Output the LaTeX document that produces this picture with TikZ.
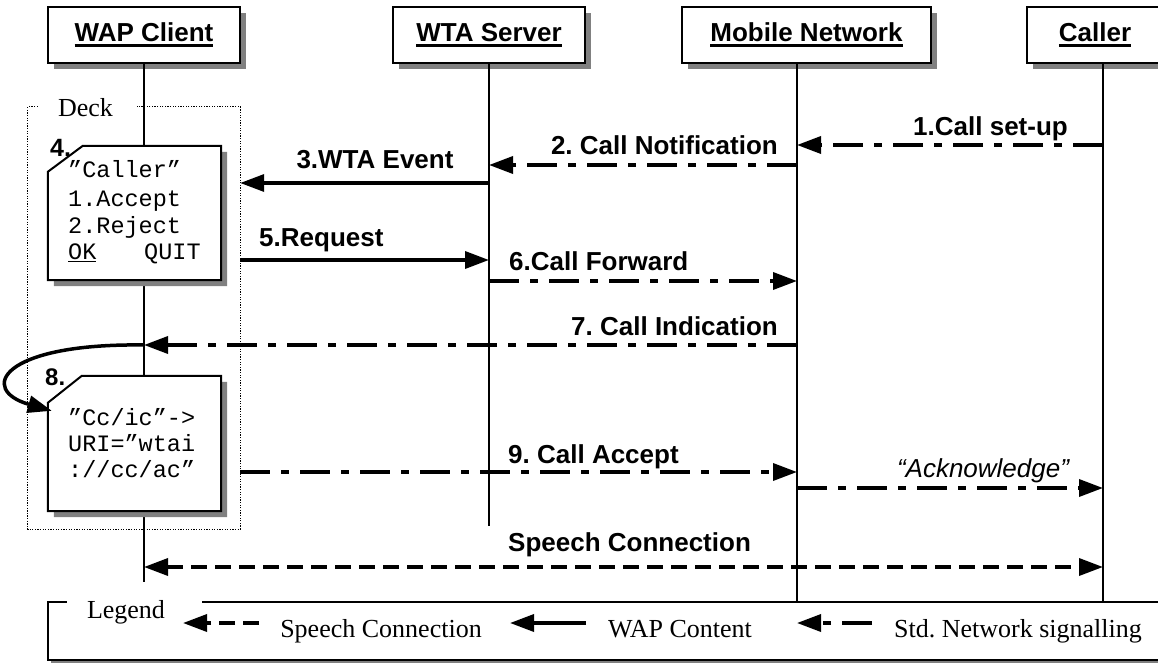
\documentclass[tikz,border=0pt]{standalone}
\usepackage{fontspec}
\setmainfont{Liberation Serif}
\newfontfamily\sansf{Liberation Sans}
\newfontfamily\monof{Liberation Mono}
\usetikzlibrary{arrows.meta,shadows,calc}
\frenchspacing

% underline with a given drop below the baseline and thickness
\newcommand\heavyul[3]{\setbox0\hbox{#3}\leavevmode\rlap{\raisebox{-#1}{\rule{\wd0}{#2}}}\box0}

\tikzset{
  grayshadow/.style={drop shadow={shadow xshift=#1, shadow yshift=-#1, fill=black!50, opacity=1}},
  titlebox/.style={draw, line width=2pt, fill=white, inner sep=0pt, minimum height=56pt,
    font=\sansf\bfseries\fontsize{26}{30}\selectfont, grayshadow=6pt},
  lifeline/.style={line width=1.8pt},
  screen/.style={draw, line width=2pt, fill=white, grayshadow=6pt},
  scrtext/.style={font=\monof\fontsize{23.5}{27}\selectfont, inner sep=0pt, anchor=base west},
  msgtip/.style={-{Triangle[length=24pt,width=17pt]}},
  wapmsg/.style={line width=3.5pt, msgtip},
  netmsg/.style={line width=3.5pt, msgtip, dash pattern=on 30pt off 11pt on 8pt off 11pt},
  voice/.style={line width=3.5pt, dash pattern=on 16pt off 8pt},
  lbl/.style={font=\sansf\bfseries\fontsize{26}{30}\selectfont, inner sep=0pt},
  steplbl/.style={font=\sansf\bfseries\fontsize{25}{30}\selectfont, inner sep=0pt, anchor=base west},
  serif/.style={font=\fontsize{26}{30}\selectfont, inner sep=0pt},
  deckline/.style={line width=1.3pt, dash pattern=on 1.3pt off 1.3pt},
}

\begin{document}
\begin{tikzpicture}[x=1pt,y=-1pt]
\useasboundingbox (0,0) rectangle (1158,663);
\clip (0,0) rectangle (1158,663);
\fill[white] (0,0) rectangle (1158,663);

% deck frame
\node[minimum width=212pt, minimum height=422pt, inner sep=0pt] (deck) at (134,318) {};
\draw[deckline] ($(deck.north west)+(10,0)$) -- (deck.north west) -- (deck.south west)
  -- (deck.south east) -- (deck.north east) -- ($(deck.north west)+(109,0)$);
\node[serif, anchor=base] (decklbl) at (85.5,117) {Deck};

% lifeline ends
\coordinate (wapEnd) at (144,582);
\coordinate (wtaEnd) at (489,526);
\coordinate (mobEnd) at (797,602);
\coordinate (callEnd) at (1103,602);

% participants
\node[titlebox, minimum width=192pt] (wap) at (144,35) {\heavyul{5pt}{2.5pt}{WAP Client}};
\node[titlebox, minimum width=192pt] (wta) at (489,35) {\heavyul{5pt}{2.5pt}{WTA Server}};
\node[titlebox, minimum width=249pt] (mob) at (806.5,35) {\heavyul{5pt}{2.5pt}{Mobile Network}};
\node[titlebox, minimum width=136pt] (caller) at (1095,35) {\heavyul{5pt}{2.5pt}{Caller}};

\draw[lifeline] (wapEnd |- wap.south) -- (wapEnd);
\draw[lifeline] (wtaEnd |- wta.south) -- (wtaEnd);
\draw[lifeline] (mobEnd |- mob.south) -- (mobEnd);
\draw[lifeline] (callEnd |- caller.south) -- (callEnd);

% handset screens
\node[minimum width=173pt, minimum height=134pt, inner sep=0pt] (scr4) at (134.5,213) {};
\draw[screen] ($(scr4.north west)+(0,26)$) -- ($(scr4.north west)+(35,0)$) -- (scr4.north east)
  -- (scr4.south east) -- (scr4.south west) -- cycle;
\node[scrtext] (s4a) at (68,178) {”Caller”};
\node[scrtext] (s4b) at (68,206) {1.Accept};
\node[scrtext] (s4c) at (68,233) {2.Reject};
\node[scrtext] (s4d) at (68,259) {\heavyul{3pt}{1pt}{OK}};
\node[scrtext] (s4e) at (144,259) {QUIT};
\node[steplbl] (n4) at (50,157) {4.};

\node[minimum width=173pt, minimum height=135pt, inner sep=0pt] (scr8) at (134.5,443.5) {};
\draw[screen] ($(scr8.north west)+(0,27)$) -- ($(scr8.north west)+(34,0)$) -- (scr8.north east)
  -- (scr8.south east) -- (scr8.south west) -- cycle;
\node[scrtext] (s8a) at (68,425) {”Cc/ic”->};
\node[scrtext] (s8b) at (68,451) {URI=”wtai};
\node[scrtext] (s8c) at (68,477) {://cc/ac”};
\node[steplbl, font=\sansf\bfseries\fontsize{24}{28}\selectfont] (n8) at (45,385) {8.};

% message rows
\coordinate (r1) at (0,145);
\coordinate (r2) at (0,165);
\coordinate (r3) at (0,183);
\coordinate (r5) at (0,260);
\coordinate (r6) at (0,281);
\coordinate (r7) at (0,345);
\coordinate (r9) at (0,472);
\coordinate (rA) at (0,488);
\coordinate (rS) at (0,567);

\draw[netmsg] (callEnd |- r1) -- (mobEnd |- r1);
\draw[netmsg] (mobEnd |- r2) -- (wtaEnd |- r2);
\draw[wapmsg] (wtaEnd |- r3) -- (deck.east |- r3);
\draw[wapmsg] (deck.east |- r5) -- (wtaEnd |- r5);
\draw[netmsg] (wtaEnd |- r6) -- (mobEnd |- r6);
\draw[netmsg] (mobEnd |- r7) -- (wapEnd |- r7);
\draw[netmsg] (deck.east |- r9) -- (mobEnd |- r9);
\draw[netmsg] (mobEnd |- rA) -- (callEnd |- rA);
\draw[voice, {Triangle[length=24pt,width=17pt]}-{Triangle[length=24pt,width=17pt]}]
  (wapEnd |- rS) -- (callEnd |- rS);
% step 8: the client loops the indication into the second screen
\draw[line width=3.5pt, msgtip] (wapEnd |- r7) .. controls (0,343) and (-22,390) .. ($(scr8.north west)+(4,35)$);

\node[lbl, anchor=base east] (l1) at (1068,136) {1.Call set-up};
\node[lbl, anchor=base east] (l2) at (778,155) {2. Call Notification};
\node[lbl, anchor=base] (l3) at (375,168) {3.WTA Event};
\node[lbl, anchor=base west] (l5) at (259,246) {5.Request};
\node[lbl, anchor=base west] (l6) at (509,270) {6.Call Forward};
\node[lbl, anchor=base east] (l7) at (778,335) {7. Call Indication};
\node[lbl, anchor=base west] (l9) at (508,463) {9. Call Accept};
\node[lbl, font=\sansf\itshape\fontsize{26}{30}\selectfont, anchor=base] (lA) at (983,477) {“Acknowledge”};
\node[lbl, anchor=base west] (lS) at (508,551) {Speech Connection};

% legend
\node[fill=white, minimum width=1132pt, minimum height=57pt, inner sep=0pt, grayshadow=3pt] (legend) at (614,631) {};
\draw[line width=2pt] ($(legend.north west)+(19,0)$) -- (legend.north west) -- (legend.south west)
  -- (legend.south east) -- (legend.north east) -- ($(legend.north west)+(154,0)$);
\node[serif, anchor=base] (legendlbl) at (126,618) {Legend};
\coordinate (k1s) at (259,623); \coordinate (k1e) at (183,623);
\coordinate (k2s) at (586,623); \coordinate (k2e) at (510,623);
\coordinate (k3s) at (872,623); \coordinate (k3e) at (797,623);
\draw[voice, msgtip] (k1s) -- (k1e);
\draw[wapmsg] (k2s) -- (k2e);
\draw[netmsg] (k3s) -- (k3e);
\node[serif, anchor=base] (t1) at (381,637) {Speech Connection};
\node[serif, anchor=base] (t2) at (680,637) {WAP Content};
\node[serif, anchor=base] (t3) at (1018,637) {Std. Network signalling};
\end{tikzpicture}
\end{document}
